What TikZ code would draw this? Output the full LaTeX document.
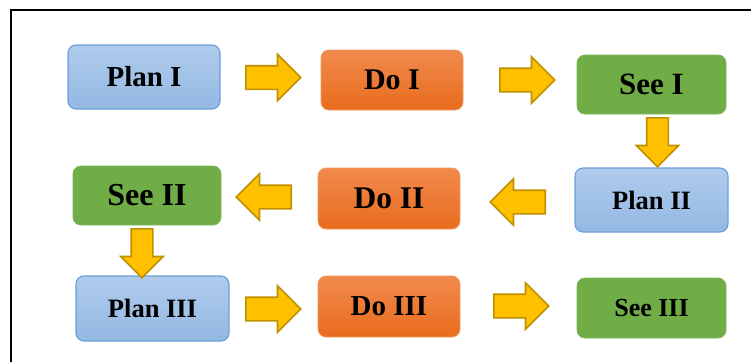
\documentclass[tikz,border=0pt]{standalone}
\usepackage{fontspec}
\setmainfont{Liberation Serif}
\usepackage{tikz}
\usetikzlibrary{calc}
\usetikzlibrary{shapes.arrows}
\usetikzlibrary{positioning}
\definecolor{plantop}{HTML}{AFCBEC}
\definecolor{planbot}{HTML}{94B8E3}
\definecolor{planline}{HTML}{6A9FD8}
\definecolor{dotop}{HTML}{F18A4D}
\definecolor{dobot}{HTML}{E96C1D}
\definecolor{doline}{HTML}{F29A60}
\definecolor{seefill}{HTML}{70AD47}
\definecolor{seeline}{HTML}{7DB65A}
\definecolor{arrowfill}{HTML}{FFC000}
\definecolor{arrowline}{HTML}{BF9000}
\newcommand{\fsz}[1]{\fontsize{#1}{#1}\selectfont\bfseries}
\tikzset{box/.style={rectangle,rounded corners=8pt,inner sep=0pt,minimum width=149pt,minimum height=60pt}}
\tikzset{plan/.style={box,top color=plantop,bottom color=planbot,draw=planline,line width=1.1pt}}
\tikzset{doit/.style={box,top color=dotop,bottom color=dobot,draw=doline,line width=0.8pt,minimum width=142pt,minimum height=61pt}}
\tikzset{see/.style={box,fill=seefill,draw=seeline,line width=0.8pt,minimum height=59pt}}
\tikzset{blockarrow/.style={single arrow,draw=arrowline,fill=arrowfill,line width=1.6pt,inner xsep=0pt,inner ysep=11pt,
	single arrow head extend=11.5pt,minimum height=55pt,minimum width=45pt,anchor=tail}}
\tikzset{downarrow/.style={blockarrow,inner ysep=10pt,single arrow head extend=10.5pt,minimum height=49pt,minimum width=41pt}}

\begin{document}
\begin{tikzpicture}[x=1pt,y=-1pt]
\useasboundingbox (0,0) rectangle (751,362);
\draw[line width=2.8pt] (11,362) -- (11,10) -- (751,10);

\node[plan,minimum width=152pt,minimum height=64pt] (P1) at (144,77) {\fsz{29}Plan I};
\node[doit,minimum height=60pt] (D1) at (392,80) {\fsz{30}Do I};
\node[see] (S1) at (651.5,84.5) {\fsz{31}See I};

\node[plan,minimum width=153pt,minimum height=64pt] (P2) at (651.5,200) {\fsz{26.5}Plan II};
\node[doit] (D2) at (389,198.5) {\fsz{31.5}Do II};
\node[see,minimum width=148pt] (S2) at (147,195.5) {\fsz{32}See II};

\node[plan,minimum width=153pt,minimum height=65pt] (P3) at (152.5,308.5) {\fsz{26.5}Plan III};
\node[doit] (D3) at (389,306.5) {\fsz{29}Do III};
\node[see,minimum height=60pt] (S3) at (651.5,308) {\fsz{26}See III};

% tails of the block arrows
\foreach \n/\x/\y/\r in {a1/245/77.5/0,a2/499/80/0,a4/546/202/180,a5/292/197/180,a7/245/309/0,a8/493/306/0} {
	\node[blockarrow,rotate=\r] (\n) at (\x,\y) {};
}
\foreach \n/\x/\y in {a3/657.5/117,a6/142/228} {
	\node[downarrow,rotate=-90] (\n) at (\x,\y) {};
}
\end{tikzpicture}
\end{document}
